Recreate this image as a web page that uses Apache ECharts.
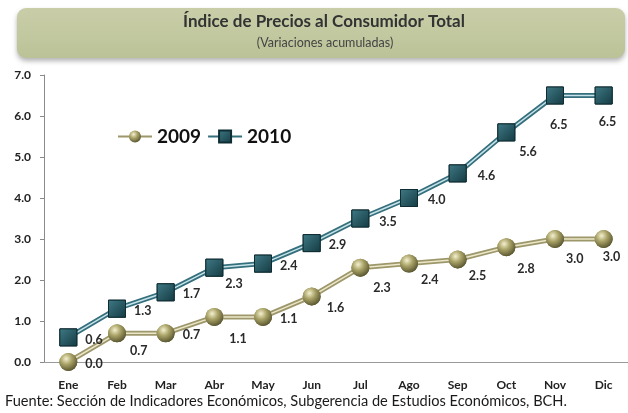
<!DOCTYPE html>
<html><head><meta charset="utf-8">
<script src="https://cdn.jsdelivr.net/npm/echarts@6/dist/echarts.min.js"></script>
<style>html,body{margin:0;padding:0;background:#fff}#c{width:628px;height:413px}</style>
</head><body><div id="c"></div>
<script>
const months = ['Ene','Feb','Mar','Abr','May','Jun','Jul','Ago','Sep','Oct','Nov','Dic'];
const v2009 = [0.0,0.7,0.7,1.1,1.1,1.6,2.3,2.4,2.5,2.8,3.0,3.0];
const v2010 = [0.6,1.3,1.7,2.3,2.4,2.9,3.5,4.0,4.6,5.6,6.5,6.5];
const yTicks = [0,1,2,3,4,5,6,7];
const titleText = 'Índice de Precios al Consumidor Total';
const subtitleText = '(Variaciones acumuladas)';
const sourceText = 'Fuente: Sección de Indicadores Económicos, Subgerencia de Estudios Económicos, BCH.';

// label offsets (style only): [dx, dy] relative to 'right' position
const off2009 = [[0,2],[-4,18],[0,2],[-2,22],[0,2],[-2,12],[-4,20],[-5,16],[-6,16],[-6,22],[-6,20],[-18,18]];
const off2010 = [[0,3],[0,2],[0,2],[-6,16],[0,2],[0,2],[2,3],[2,2],[3,3],[-4,20],[-22,29],[-22,26]];

const F = 'Lato, "Open Sans", sans-serif';
const labelStyle = {fontFamily:F, fontWeight:'bold', fontSize:12.5, color:'#2a2a2a'};

function withLabels(vals, offs){
  return vals.map((v,i)=>({value:v, label:{offset:offs[i]}}));
}
const sphere = {type:'radial', x:0.38, y:0.32, r:0.7, colorStops:[
  {offset:0,color:'#f4f0cf'},{offset:0.45,color:'#aaa368'},{offset:1,color:'#5a5630'}]};
const square = {type:'linear', x:0, y:0, x2:1, y2:1, colorStops:[
  {offset:0,color:'#3f7a86'},{offset:1,color:'#143a42'}]};

const chart = echarts.init(document.getElementById('c'));
chart.setOption({
  backgroundColor:'#fff',
  animation:false,
  graphic:[
    {type:'rect', shape:{x:17,y:8,width:608,height:50,r:9},
     style:{fill:{type:'linear',x:0,y:0,x2:0,y2:1,colorStops:[{offset:0,color:'#c9cea9'},{offset:1,color:'#bcc297'}]},
       shadowBlur:5, shadowOffsetY:3, shadowColor:'rgba(0,0,0,0.3)'}, z:-1},
    {type:'text', x:324, y:13, style:{text:titleText, font:'bold 17px '+F, fill:'#333', align:'center', textAlign:'center'}},
    {type:'text', x:325, y:36, style:{text:subtitleText, font:'12.5px '+F, fill:'#444', align:'center', textAlign:'center'}},
    {type:'text', x:5, y:394, style:{text:sourceText, font:'14.6px '+F, fill:'#1a1a1a'}}
  ],
  legend:{
    data:['2009','2010'], left:112, top:122, itemWidth:34, itemHeight:15, itemGap:6,
    textStyle:{fontFamily:F, fontWeight:'bold', fontSize:19, color:'#111'}
  },
  grid:{left:44, top:75, height:287, width:588},
  xAxis:{type:'category', data:months, boundaryGap:true,
    axisLine:{lineStyle:{color:'#9a9a9a', width:1}}, axisTick:{show:false},
    axisLabel:{fontFamily:F, fontWeight:'bold', fontSize:12, color:'#222', margin:17}},
  yAxis:{type:'value', min:yTicks[0], max:yTicks[yTicks.length-1], interval:1,
    splitLine:{show:false},
    axisLine:{show:true, lineStyle:{color:'#8a8a8a'}},
    axisTick:{show:true, length:4, lineStyle:{color:'#8a8a8a'}},
    axisLabel:{fontFamily:F, fontWeight:'bold', fontSize:12, color:'#222', margin:13, formatter:v=>v.toFixed(1)}},
  series:[
    {name:'2009', type:'line', data:v2009, symbol:'circle', symbolSize:18, z:2,
     lineStyle:{color:'#9d976b', width:5}, itemStyle:{color:sphere, borderWidth:0}},
    {name:'2009i', type:'line', data:v2009, showSymbol:false, symbol:'none', z:2, silent:true,
     lineStyle:{color:'#ebe7c8', width:1.5}},
    {name:'2009s', type:'line', data:withLabels(v2009, off2009), symbol:'circle', symbolSize:18, z:3,
     lineStyle:{opacity:0, width:0}, itemStyle:{color:sphere},
     label:{show:true, position:'right', distance:8, formatter:p=>p.value.toFixed(1), ...labelStyle}},
    {name:'2010', type:'line', data:v2010, symbol:'rect', symbolSize:17, z:4,
     lineStyle:{color:'#356f7c', width:5}, itemStyle:{color:square, borderColor:'#0f2c32', borderWidth:1}},
    {name:'2010i', type:'line', data:v2010, showSymbol:false, symbol:'none', z:4, silent:true,
     lineStyle:{color:'#c6e3ea', width:1.5}},
    {name:'2010s', type:'line', data:withLabels(v2010, off2010), symbol:'rect', symbolSize:17, z:5,
     lineStyle:{opacity:0, width:0}, itemStyle:{color:square, borderColor:'#0f2c32', borderWidth:1},
     label:{show:true, position:'right', distance:8, formatter:p=>p.value.toFixed(1), ...labelStyle}}
  ]
});
</script></body></html>
